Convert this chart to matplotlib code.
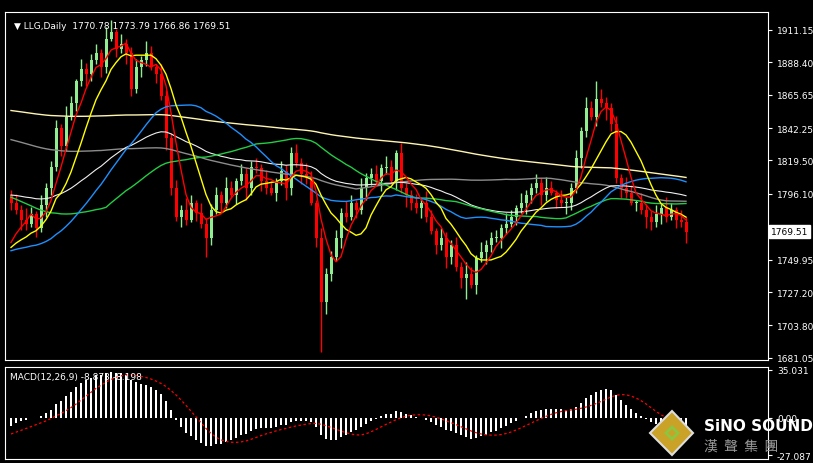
import matplotlib.pyplot as plt
import matplotlib.patches as mpatches
import numpy as np
import pandas as pd

# visible daily closes (LLG)
closes = [1790, 1785, 1778, 1775, 1782, 1772, 1788, 1800, 1815,
          1842, 1830, 1850, 1860, 1875, 1884, 1880, 1890, 1895, 1885, 1905,
          1910, 1898, 1901, 1895, 1870, 1885, 1890, 1895, 1885, 1880,
          1865, 1835, 1800, 1780, 1785, 1778, 1790, 1783, 1775,
          1765, 1785, 1795, 1790, 1800, 1795, 1805, 1810, 1800, 1815, 1814,
          1805, 1800, 1797, 1805, 1812, 1800, 1825, 1818, 1810, 1807,
          1790, 1765, 1720, 1740, 1752, 1765, 1783, 1780, 1790,
          1785, 1800, 1807, 1810, 1805, 1814, 1815, 1805, 1825,
          1800, 1795, 1790, 1786, 1790, 1780, 1770, 1760, 1765,
          1752, 1760, 1745, 1737, 1740, 1732, 1751, 1755, 1760,
          1765, 1765, 1772, 1775, 1780, 1786, 1790, 1795, 1800,
          1804, 1795, 1800, 1797, 1792, 1790, 1790, 1800, 1821,
          1840, 1856, 1850, 1863, 1860, 1856, 1845, 1807, 1800,
          1797, 1790, 1790, 1785, 1780, 1776, 1782, 1786, 1780,
          1785, 1778, 1776, 1769.51]
opens_first = 1795
wick_up = [4, 6, 3, 8, 5, 2, 7, 4]
wick_dn = [5, 3, 7, 4, 2, 6, 3, 8]
extra_low = {62: 1685, 91: 1722, 39: 1752}
extra_high = {20: 1918, 117: 1875}

# earlier history feeding the long averages
history = [1875] * 150 + [1855] * 20 + [1755] * 30

yticks = [1911.15, 1888.40, 1865.65, 1842.25, 1819.50, 1796.10, 1749.95,
          1727.20, 1703.80, 1681.05]

n = len(closes)
opens = [opens_first] + closes[:-1]
highs, lows = [], []
for i in range(n):
    h = max(opens[i], closes[i]) + wick_up[i % len(wick_up)]
    l = min(opens[i], closes[i]) - wick_dn[i % len(wick_dn)]
    highs.append(extra_high.get(i, h))
    lows.append(extra_low.get(i, l))

full = pd.Series(history + closes, dtype=float)
h0 = len(history)
ma = {p: full.rolling(p).mean().values[h0:] for p in (5, 10, 30, 50, 100, 200)}
ema20 = full.ewm(span=60).mean().values[h0:]
macd = (full.ewm(span=12).mean() - full.ewm(span=26).mean())
sig = macd.rolling(9).mean()
macd = macd.values[h0:]
sig = sig.values[h0:]

fig = plt.figure(figsize=(8.13, 4.64), dpi=100, facecolor='black')
ax = fig.add_axes([5 / 813, 1 - 361 / 464, 763 / 813, 348 / 464], facecolor='black')
ax2 = fig.add_axes([5 / 813, 1 - 460 / 464, 763 / 813, 92 / 464], facecolor='black', sharex=ax)

x = np.arange(n)
for i in range(n):
    up = closes[i] >= opens[i]
    col = '#90ee90' if up else '#ff0000'
    ax.vlines(i, lows[i], highs[i], color=col, lw=1)
    ax.bar(i, abs(closes[i] - opens[i]) or 0.5, bottom=min(opens[i], closes[i]),
           width=0.6, color=col)

ax.plot(x, ma[200], color='#fff5b0', lw=1)
ax.plot(x, ma[100], color='#8c8c8c', lw=1)
ax.plot(x, ema20, color='#f0f0f0', lw=0.8)
ax.plot(x, ma[50], color='#22cc44', lw=1)
ax.plot(x, ma[30], color='#1e90ff', lw=1)
ax.plot(x, ma[10], color='#ffff00', lw=1)
ax.plot(x, ma[5], color='#ff0000', lw=1)

ax.set_xlim(-1.2, 151.4)
ax.set_ylim(1679.5, 1923.7)
ax.yaxis.tick_right()
ax.set_yticks(yticks)
ax.set_yticklabels([f'{v:.2f}' for v in yticks])
ax.set_xticks([])
ax.text(0.012, 0.975, '▼ LLG,Daily  1770.78 1773.79 1766.86 1769.51', transform=ax.transAxes,
        color='white', fontsize=6.5, va='top')
ax.text(1.004, (1769.51 - 1679.5) / (1923.7 - 1679.5), '1769.51', transform=ax.transAxes,
        color='black', fontsize=6.5, va='center',
        bbox=dict(boxstyle='square,pad=0.2', fc='white', ec='white'))

ax2.bar(x, macd, width=0.25, color='white')
ax2.plot(x, sig, color='#ff0000', lw=0.9, ls=(0, (2, 2)))
ax2.set_ylim(-30, 37)
ax2.yaxis.tick_right()
ax2.set_yticks([35.031, 0.0, -27.087])
ax2.set_yticklabels(['35.031', '0.00', '-27.087'])
ax2.text(0.006, 0.95, 'MACD(12,26,9) -8.873 -8.198', transform=ax2.transAxes,
         color='white', fontsize=6.5, va='top')

for a in (ax, ax2):
    for s in a.spines.values():
        s.set_color('white')
    a.tick_params(colors='white', labelsize=6.5, length=3)

# logo
fig.patches.append(mpatches.Polygon([[672 / 813, 1 - 412 / 464], [693 / 813, 1 - 434 / 464],
                                     [672 / 813, 1 - 456 / 464], [650 / 813, 1 - 434 / 464]],
                                    closed=True, transform=fig.transFigure, fc='#c9a227', ec='#dddddd', lw=1.5))
fig.patches.append(mpatches.Polygon([[672 / 813, 1 - 428 / 464], [678 / 813, 1 - 434 / 464],
                                     [672 / 813, 1 - 440 / 464], [666 / 813, 1 - 434 / 464]],
                                    closed=True, transform=fig.transFigure, fc='none', ec='#8cc63f', lw=2))
fig.text(704 / 813, 1 - 427 / 464, 'SiNO SOUND', color='white', fontsize=11, fontweight='bold', va='center')
fig.text(704 / 813, 1 - 447 / 464, '漢  聲  集  團', color='#999999', fontsize=10, va='center',
         family=['Noto Sans CJK TC', 'DejaVu Sans'])

fig.savefig('out.png', dpi=100, facecolor='black')
